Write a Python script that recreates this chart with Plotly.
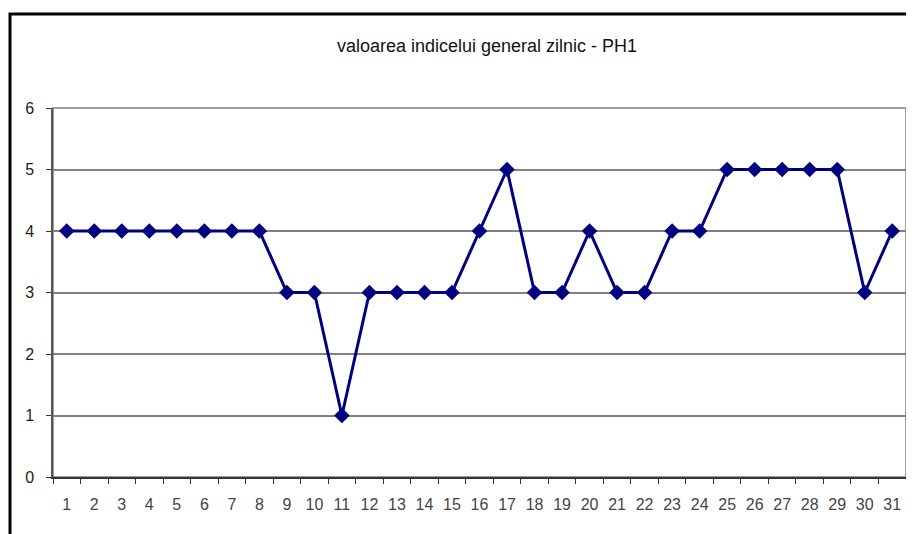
import plotly.graph_objects as go

days = [str(i) for i in range(1, 32)]
values = [4, 4, 4, 4, 4, 4, 4, 4, 3, 3, 1, 3, 3, 3, 3, 4, 5, 3, 3, 4, 3, 3, 4, 4, 5, 5, 5, 5, 5, 3, 4]
title_text = "valoarea indicelui general zilnic - PH1"

# page body has an 8px margin, so the figure is drawn from (8, 8)
W, H = 906, 526
L, T, R, B = 45, 100, 8, 57
pw, ph = W - L - R, H - T - B

fig = go.Figure()
fig.add_trace(go.Scatter(
    x=days, y=values, mode="lines+markers",
    line=dict(color="#000080", width=3),
    marker=dict(symbol="diamond", size=12, color="#000080"),
    cliponaxis=False,
))

fig.update_layout(
    width=W, height=H,
    margin=dict(l=L, r=R, t=T, b=B),
    paper_bgcolor="white", plot_bgcolor="white",
    showlegend=False,
    font=dict(family="Liberation Sans, Arial, sans-serif", size=16, color="#222222"),
    title=dict(text=title_text, x=(487 - 8) / W, xanchor="center", y=1 - (46 - 8) / H, yanchor="middle",
               font=dict(size=18, color="#111111")),
    xaxis=dict(type="category", tickson="boundaries", ticks="outside", ticklen=5,
               tickcolor="#333333", showline=True, linecolor="#333333", linewidth=2,
               showgrid=False, mirror=False, range=[-0.5, 30.5],
               tickfont=dict(size=16, color="#444444"), ticklabelstandoff=12),
    yaxis=dict(range=[0, 6], dtick=1, ticks="outside", ticklen=5, tickcolor="#333333",
               showline=True, linecolor="#555555", linewidth=1.5,
               gridcolor="#808080", gridwidth=1.5, zeroline=False, ticklabelstandoff=9,
               tickfont=dict(size=16, color="#222222")),
    shapes=[
        dict(type="rect", xref="paper", yref="paper", x0=0, x1=1, y0=0, y1=1,
             line=dict(color="#808080", width=1.5), layer="below"),
        dict(type="rect", xref="paper", yref="paper",
             x0=(10 - 8 - L) / pw, x1=1.05, y0=-0.2, y1=1 + (T - (14 - 8)) / ph,
             line=dict(color="black", width=3)),
    ],
)

fig.write_html("out.html")
